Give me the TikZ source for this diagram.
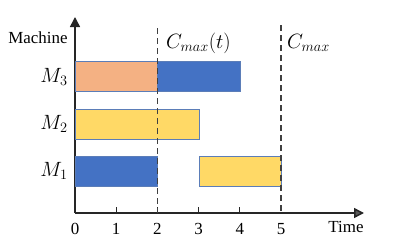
\documentclass[tikz,border=0pt]{standalone}
\usepackage{fontspec}
\setmainfont{Liberation Serif}
\usetikzlibrary{arrows.meta}
\definecolor{barblue}{HTML}{4472C4}
\definecolor{barorange}{HTML}{F4B183}
\definecolor{baryellow}{HTML}{FFD966}
\definecolor{barline}{HTML}{5B7DB8}
\definecolor{axisgray}{HTML}{262626}
\definecolor{dashgray}{HTML}{404040}
\begin{document}
\begin{tikzpicture}[x=1bp,y=-1bp,
  bar/.style={draw=barline, line width=0.8bp, inner sep=0pt, minimum height=30bp, anchor=north west},
  axisline/.style={draw=axisgray, line width=1.5bp},
  cline/.style={draw=dashgray, line width=1.5bp, dash pattern=on 6bp off 4bp},
  txt/.style={font=\fontsize{17}{20}\selectfont, inner sep=0pt},
  mlab/.style={font=\fontsize{22}{26}\selectfont, inner sep=0pt}]
\useasboundingbox (0,0) rectangle (397,248);
\def\u{41.2}
% axes
\coordinate (O) at (75,213);
\coordinate (Ytop) at (75,17);
\coordinate (Xend) at (364,213);
\draw[axisline, -{Triangle[length=10bp,width=10bp]}] (O) -- (Ytop);
\draw[axisline, -{Triangle[length=10bp,width=10bp,fill=gray!70!black]}] (O) -- (Xend);
% ticks
\foreach \i in {1,2,3,4}{
  \coordinate (t\i) at ({75+\i*\u},213);
  \draw[axisline, line width=1bp] (t\i) -- ++(0,-6);
}
% dashed lines
\coordinate (d2top) at ({75+2*\u},28);
\coordinate (d2bot) at ({75+2*\u},213);
\coordinate (d5top) at ({75+5*\u},25);
\coordinate (d5bot) at ({75+5*\u},213);
% bars
\node[bar, fill=barorange, minimum width={2*\u bp}] (m3a) at (75,61) {};
\node[bar, fill=barblue, minimum width={2*\u bp}] (m3b) at ({75+2*\u},61) {};
\node[bar, fill=baryellow, minimum width={3*\u bp}] (m2a) at (75,108.5) {};
\node[bar, fill=barblue, minimum width={2*\u bp}] (m1a) at (75,156) {};
\node[bar, fill=baryellow, minimum width={2*\u bp}] (m1b) at ({75+3*\u},156) {};
\draw[cline] (d2top) -- (d2bot);
\draw[cline] (d5top) -- (d5bot);
% labels
\node[txt] (machine) at (38,38) {Machine};
\node[mlab] (lm3) at (54,77) {$M_3$};
\node[mlab] (lm2) at (54,124) {$M_2$};
\node[mlab] (lm1) at (54,171) {$M_1$};
\node[mlab, anchor=west] (cmt) at (166,43) {$C_{max}(t)$};
\node[mlab, anchor=west] (cm) at (287,43) {$C_{max}$};
\foreach \i in {0,...,5}{
  \node[txt] (n\i) at ({75+\i*\u},229) {\i};
}
\node[txt] (time) at (346,227) {Time};
\end{tikzpicture}
\end{document}
